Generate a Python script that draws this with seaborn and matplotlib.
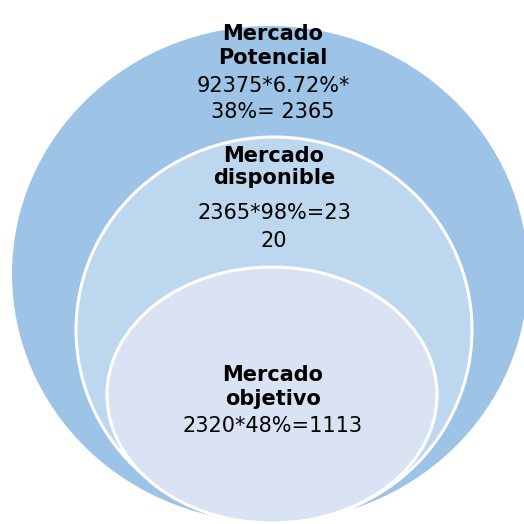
import matplotlib
matplotlib.use("Agg")
import matplotlib.pyplot as plt
from matplotlib.patches import Ellipse
import seaborn as sns

# Data
levels = ["Mercado\nPotencial", "Mercado\ndisponible", "Mercado\nobjetivo"]
formulas = ["92375*6.72%*\n38%= 2365", "2365*98%=23\n20", "2320*48%=1113"]
results = [2365, 2320, 1113]
colors = ["#9DC3E6", "#BDD7EE", "#DAE3F3"]

sns.set_theme(style="white")
plt.rcParams['font.family'] = ['DejaVu Sans']

fig = plt.figure(figsize=(5.24, 5.24), dpi=100)
ax = fig.add_axes([0, 0, 1, 1])
ax.set_xlim(0, 524)
ax.set_ylim(524, 0)
ax.axis("off")

# ellipse geometry (center x, center y, width, height)
geom = [(270, 274, 516, 496), (274, 330, 396, 386), (272, 395, 330, 256)]
edges = ["none", "white", "white"]
for (cx, cy, w, h), c, ec in zip(geom, colors, edges):
    ax.add_patch(Ellipse((cx, cy), w, h, facecolor=c, edgecolor=ec, lw=2.2))

# text lines positions
title_y = [(34, 58), (156, 178), (375, 399)]
formula_y = [(86, 112), (213, 241), (426,)]
xc = [273, 274, 273]

fs = 15
for i in range(3):
    for line, y in zip(levels[i].split("\n"), title_y[i]):
        ax.text(xc[i], y, line, ha="center", va="center", fontsize=fs,
                fontweight="bold", color="black")
    for line, y in zip(formulas[i].split("\n"), formula_y[i]):
        ax.text(xc[i], y, line, ha="center", va="center", fontsize=fs,
                color="black")

fig.savefig("out.png", dpi=100)
